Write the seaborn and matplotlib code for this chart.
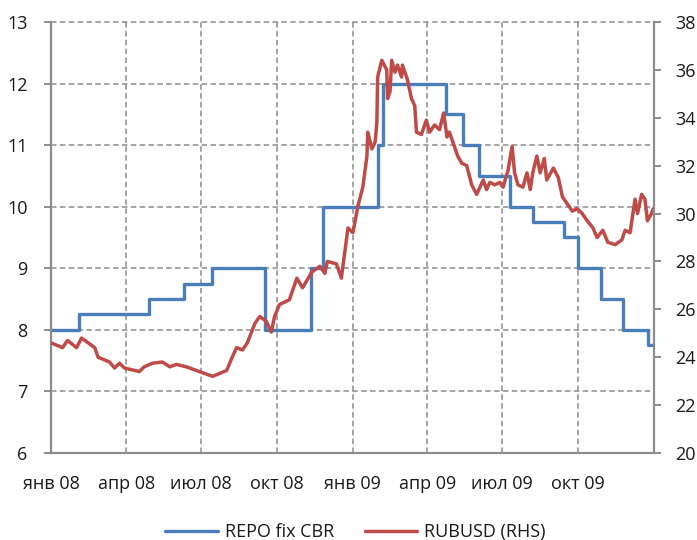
import pandas as pd
import matplotlib
matplotlib.use("Agg")
import matplotlib.pyplot as plt
import seaborn as sns

# CBR fixed-rate REPO, % (step changes)
repo_dates = ["2008-01-01", "2008-02-04", "2008-04-29", "2008-06-10", "2008-07-14",
              "2008-09-16", "2008-11-11", "2008-11-26", "2009-02-01", "2009-02-07",
              "2009-04-24", "2009-05-14", "2009-06-03", "2009-07-10", "2009-08-07",
              "2009-09-14", "2009-10-01", "2009-10-29", "2009-11-24", "2009-12-25",
              "2009-12-31"]
repo_rate = [8.0, 8.25, 8.5, 8.75, 9.0, 8.0, 9.0, 10.0, 11.0, 12.0,
             11.5, 11.0, 10.5, 10.0, 9.75, 9.5, 9.0, 8.5, 8.0, 7.75, 7.75]

# RUB per USD (right-hand scale)
rub_dates = ["2008-01-01", "2008-01-15", "2008-01-21", "2008-02-01", "2008-02-07",
             "2008-02-23", "2008-02-27", "2008-03-12", "2008-03-18", "2008-03-24",
             "2008-03-30", "2008-04-17", "2008-04-23", "2008-05-03", "2008-05-15",
             "2008-05-24", "2008-06-01", "2008-06-13", "2008-06-29", "2008-07-15",
             "2008-08-01", "2008-08-07", "2008-08-13", "2008-08-20", "2008-08-26",
             "2008-09-04", "2008-09-10", "2008-09-18", "2008-09-24", "2008-09-28",
             "2008-10-04", "2008-10-16", "2008-10-25", "2008-11-01", "2008-11-12",
             "2008-11-22", "2008-11-28", "2008-12-01", "2008-12-12", "2008-12-18",
             "2008-12-26", "2009-01-01", "2009-01-07", "2009-01-13", "2009-01-18",
             "2009-01-19", "2009-01-24", "2009-01-28", "2009-01-30", "2009-01-31",
             "2009-02-05", "2009-02-11", "2009-02-12", "2009-02-15", "2009-02-17",
             "2009-02-21", "2009-02-24", "2009-03-01", "2009-03-02", "2009-03-08",
             "2009-03-13", "2009-03-17", "2009-03-19", "2009-03-25", "2009-03-31",
             "2009-04-04", "2009-04-10", "2009-04-16", "2009-04-21", "2009-04-25",
             "2009-04-28", "2009-05-08", "2009-05-13", "2009-05-19", "2009-05-25",
             "2009-05-31", "2009-06-04", "2009-06-08", "2009-06-12", "2009-06-16",
             "2009-06-22", "2009-06-28", "2009-07-02", "2009-07-08", "2009-07-13",
             "2009-07-16", "2009-07-20", "2009-07-26", "2009-07-31", "2009-08-04",
             "2009-08-07", "2009-08-12", "2009-08-16", "2009-08-21", "2009-08-24",
             "2009-09-01", "2009-09-07", "2009-09-12", "2009-09-18", "2009-09-24",
             "2009-09-30", "2009-10-06", "2009-10-12", "2009-10-19", "2009-10-24",
             "2009-10-31", "2009-11-06", "2009-11-15", "2009-11-23", "2009-11-27",
             "2009-12-03", "2009-12-09", "2009-12-12", "2009-12-17", "2009-12-21",
             "2009-12-24", "2009-12-29", "2009-12-31"]
rub_usd = [24.6, 24.4, 24.7, 24.4, 24.8,
           24.4, 24.0, 23.8, 23.55, 23.75,
           23.55, 23.4, 23.6, 23.75, 23.8,
           23.6, 23.7, 23.6, 23.4, 23.2,
           23.45, 23.95, 24.4, 24.3, 24.6,
           25.4, 25.7, 25.5, 25.05, 25.7,
           26.2, 26.4, 27.3, 26.9, 27.55,
           27.8, 27.5, 28.0, 27.9, 27.3,
           29.4, 29.2, 30.3, 31.1, 32.4,
           33.4, 32.7, 33.0, 33.8, 35.7,
           36.4, 36.0, 34.8, 35.1, 36.4,
           35.9, 36.2, 35.7, 36.2, 35.6,
           34.8, 34.5, 33.4, 33.3, 33.9,
           33.4, 33.7, 33.5, 34.2, 33.2,
           33.4, 32.4, 32.1, 32.0, 31.2,
           30.8, 31.1, 31.4, 31.0, 31.3,
           31.2, 31.3, 31.1, 31.8, 32.8,
           31.7, 31.2, 31.1, 31.7, 31.0,
           31.7, 32.4, 31.7, 32.3, 31.4,
           31.9, 31.5, 30.7, 30.4, 30.1,
           30.2, 30.0, 29.7, 29.4, 29.0,
           29.3, 28.8, 28.7, 28.9, 29.3,
           29.2, 30.6, 30.0, 30.8, 30.6,
           29.7, 30.0, 30.2]

tick_labels = ["янв 08", "апр 08", "июл 08", "окт 08",
               "янв 09", "апр 09", "июл 09", "окт 09", ""]

repo = pd.DataFrame({"date": pd.to_datetime(repo_dates), "rate": repo_rate})
rub = pd.DataFrame({"date": pd.to_datetime(rub_dates), "rub": rub_usd})

sns.set_style("white")
plt.rcParams["font.family"] = ["Open Sans", "DejaVu Sans"]

BLUE = "#4A7EBB"
RED = "#BE4B48"
GRID = "#8C8C8C"
TEXT = "#1A1A1A"

fig = plt.figure(figsize=(6.97, 5.40), dpi=100)
ax = fig.add_axes([0.0732, 0.1611, 0.8651, 0.7982])
ax2 = ax.twinx()

sns.lineplot(data=repo, x="date", y="rate", ax=ax, color=BLUE, lw=2.4,
             drawstyle="steps-post", label="REPO fix CBR", legend=False)
sns.lineplot(data=rub, x="date", y="rub", ax=ax2, color=RED, lw=2.5,
             label="RUBUSD (RHS)", legend=False)

xmin, xmax = pd.Timestamp("2008-01-01"), pd.Timestamp("2010-01-01")
ticks = pd.date_range(xmin, xmax, freq="QS")
ax.set_xlim(xmin, xmax)
ax.set_xticks(ticks)
ax.set_xticklabels(tick_labels)
ax.set_ylim(6, 13)
ax.set_yticks(range(6, 14))
ax2.set_ylim(20, 38)
ax2.set_yticks(range(20, 39, 2))

for a in (ax, ax2):
    a.set_xlabel("")
    a.set_ylabel("")
ax.set_zorder(1)
ax2.set_zorder(2)
ax2.patch.set_visible(False)

# dashed grid: horizontal on left scale, vertical at interior quarters
dash = (0, (3.6, 2.2))
for y in range(7, 14):
    ax.axhline(y, color=GRID, lw=1.1, ls=dash, zorder=0, clip_on=False)
for t in ticks[1:-1]:
    ax.axvline(t, color=GRID, lw=1.1, ls=dash, zorder=0)

for a in (ax, ax2):
    a.spines["top"].set_visible(False)
    for side in ("left", "right", "bottom"):
        a.spines[side].set_color(GRID)
        a.spines[side].set_linewidth(1.6)
ax.spines["right"].set_visible(False)
ax2.spines["left"].set_visible(False)
ax2.spines["bottom"].set_visible(False)

ax.tick_params(axis="both", direction="out", length=5, width=1.4, color=GRID,
               labelsize=13, labelcolor=TEXT)
ax.tick_params(axis="y", pad=12)
ax.tick_params(axis="x", pad=11)
ax2.tick_params(axis="y", direction="out", length=5, width=1.4, color=GRID,
                labelsize=13, labelcolor=TEXT, pad=10)

h1, l1 = ax.get_legend_handles_labels()
h2, l2 = ax2.get_legend_handles_labels()
fig.legend(h1 + h2, l1 + l2, loc="center", bbox_to_anchor=(0.51, 0.015),
           ncol=2, frameon=False, fontsize=13, handlelength=2.9,
           handletextpad=0.4, columnspacing=1.7, labelcolor=TEXT)

fig.savefig("out.png", dpi=100)
